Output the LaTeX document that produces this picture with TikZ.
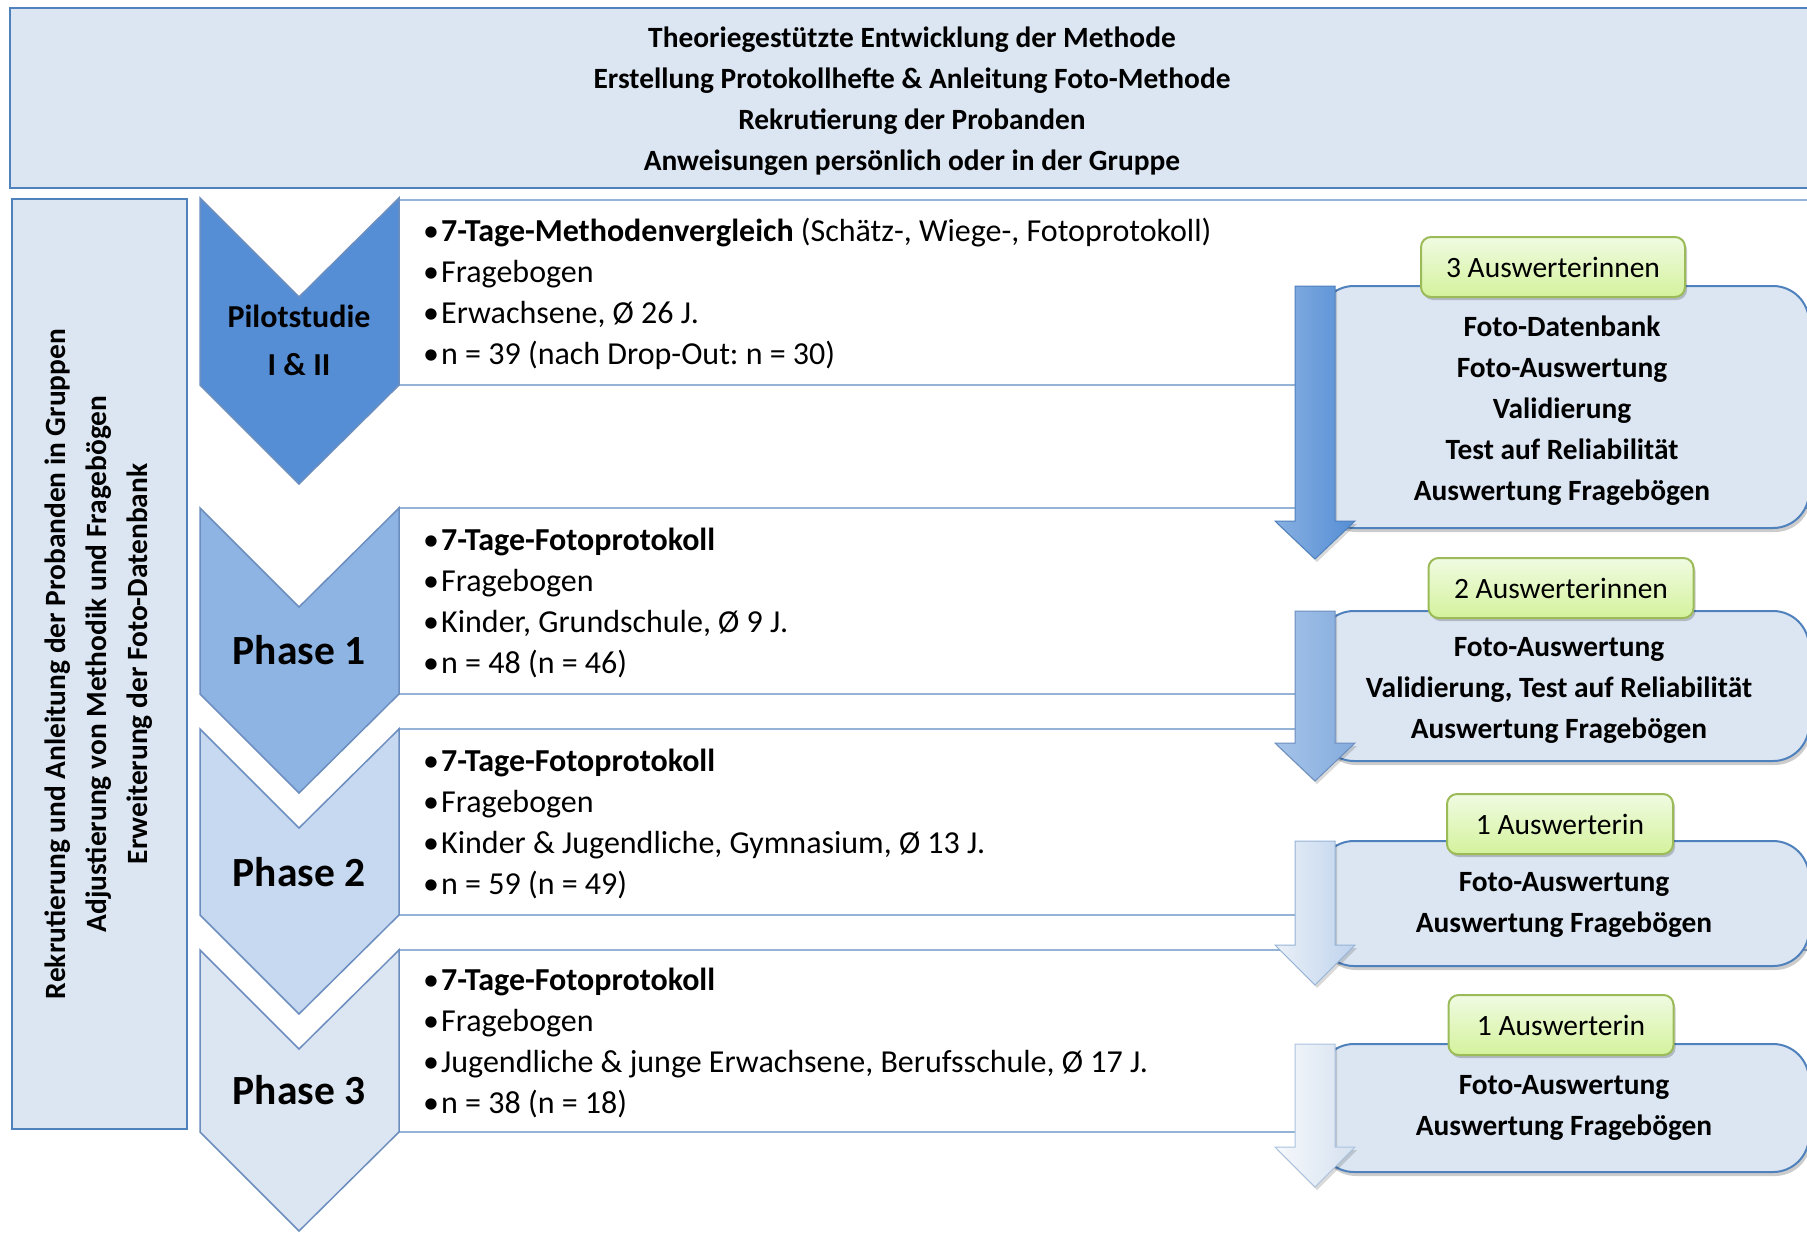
\documentclass[tikz,border=0pt]{standalone}
\usepackage{fontspec}
\setmainfont{Carlito}
\usepackage{tikz}
\usetikzlibrary{shadows}
\frenchspacing

\definecolor{hdrfill}{HTML}{DCE6F2}
\definecolor{hdrline}{HTML}{4F81BD}
\definecolor{rowline}{HTML}{95B3D7}
\definecolor{chevline}{HTML}{6C8EBF}
\definecolor{chevA}{HTML}{558ED5}
\definecolor{chevB}{HTML}{8EB4E3}
\definecolor{chevC}{HTML}{C6D9F1}
\definecolor{chevD}{HTML}{DCE6F2}
\definecolor{tagtop}{HTML}{F0FBE2}
\definecolor{tagbot}{HTML}{D4F29C}
\definecolor{tagline}{HTML}{9BBB59}

\newcommand\itm{\makebox[18pt][l]{\textbullet}}

\begin{document}
\begin{tikzpicture}[x=1pt,y=-1pt,
  frame/.style={draw=hdrline,line width=2pt,fill=hdrfill},
  row/.style={draw=rowline,line width=2pt,fill=white},
  chev/.style={draw=chevline,line width=1.5pt},
  panel/.style={draw=hdrline,line width=2pt,fill=hdrfill,rounded corners=36pt,
    drop shadow={shadow xshift=2pt,shadow yshift=-4pt,fill=black,opacity=.2}},
  flow/.style={line width=1pt,
    drop shadow={shadow xshift=2pt,shadow yshift=-3pt,fill=black,opacity=.15}},
  tag/.style={draw=tagline,line width=2pt,rounded corners=10pt,top color=tagtop,
    bottom color=tagbot,minimum height=60pt,font=\fontsize{29.5}{35}\selectfont,
    drop shadow={shadow xshift=2pt,shadow yshift=-3pt,fill=black,opacity=.2}},
  bold/.style={font=\fontsize{29.4}{41}\selectfont\bfseries,align=center,inner sep=0pt},
  items/.style={font=\fontsize{32}{41}\selectfont,align=left,anchor=west,inner sep=0pt},
  pilot/.style={font=\fontsize{32}{48}\selectfont\bfseries,align=center},
  phase/.style={font=\fontsize{41.5}{48}\selectfont\bfseries}]
\useasboundingbox (0,0) rectangle (1807,1232);
\clip (0,0) rectangle (1807,1232);

% objects at depth 60:
\path[frame] (10,8) rectangle (1815,188);
\path[frame] (12,199) rectangle (187,1129);

% objects at depth 50:
\path[row] (399,200) rectangle (1815,385);
\path[row] (399,508) rectangle (1815,694);
\path[row] (399,729) rectangle (1815,915);
\path[row] (399,950) rectangle (1815,1132);

% objects at depth 40:
\path[chev,fill=chevA] (200,198) -- (299,297) -- (399,198) -- (399,385) -- (299,484) -- (200,385) -- cycle;
\path[chev,fill=chevB] (200,508) -- (299,607) -- (399,508) -- (399,694) -- (299,793) -- (200,694) -- cycle;
\path[chev,fill=chevC] (200,729) -- (299,828) -- (399,729) -- (399,915) -- (299,1014) -- (200,915) -- cycle;
\path[chev,fill=chevD] (200,950) -- (299,1049) -- (399,950) -- (399,1132) -- (299,1231) -- (200,1132) -- cycle;

% objects at depth 30:
\path[panel] (1318,286) rectangle (1809,528);
\path[panel] (1318,611) rectangle (1809,761);
\path[panel] (1318,841) rectangle (1809,966);
\path[panel] (1318,1044) rectangle (1809,1172);

% objects at depth 20:
\path[flow,draw=hdrline,left color=chevA!70!white,right color=chevA]
  (1295,286) -- (1335,286) -- (1335,521) -- (1355,521) -- (1315,559) -- (1275,521) -- (1295,521) -- cycle;
\path[flow,draw=chevline,left color=chevB!80!white,right color=chevB!85!hdrline]
  (1295,611) -- (1335,611) -- (1335,743) -- (1355,743) -- (1315,781) -- (1275,743) -- (1295,743) -- cycle;
\path[flow,draw=rowline,left color=chevD!60!white,right color=chevC!85!rowline]
  (1295,841) -- (1335,841) -- (1335,945) -- (1355,945) -- (1315,985) -- (1275,945) -- (1295,945) -- cycle;
\path[flow,draw=rowline!80!white,left color=chevD!25!white,right color=chevD!90!rowline]
  (1295,1044) -- (1335,1044) -- (1335,1147) -- (1355,1147) -- (1315,1187) -- (1275,1147) -- (1295,1147) -- cycle;

% objects at depth 10:
\node[tag,minimum width=264pt] (team1) at (1553,267) {3 Auswerterinnen};
\node[tag,minimum width=265pt] (team2) at (1561,588) {2 Auswerterinnen};
\node[tag,minimum width=226pt] (team3) at (1560,824) {1 Auswerterin};
\node[tag,minimum width=225pt] (team4) at (1561,1025) {1 Auswerterin};

% texts:
\node[bold] (prep) at (912,101) {Theoriegestützte Entwicklung der Methode\\
  Erstellung Protokollhefte \& Anleitung Foto-Methode\\
  Rekrutierung der Probanden\\
  Anweisungen persönlich oder in der Gruppe};
\node[bold,rotate=90] (loop) at (99,664) {Rekrutierung und Anleitung der Probanden in Gruppen\\
  Adjustierung von Methodik und Fragebögen\\
  Erweiterung der Foto-Datenbank};

\node[pilot] (stage0) at (299,340) {Pilotstudie\\I \& II};
\node[phase] (stage1) at (299,650) {Phase 1};
\node[phase] (stage2) at (299,872) {Phase 2};
\node[phase] (stage3) at (299,1090) {Phase 3};

\node[items] (info0) at (423,294) {\itm\textbf{7-Tage-Methodenvergleich} (Schätz-, Wiege-, Fotoprotokoll)\\
  \itm Fragebogen\\
  \itm Erwachsene, Ø 26 J.\\
  \itm n = 39 (nach Drop-Out: n = 30)};
\node[items] (info1) at (423,603) {\itm\textbf{7-Tage-Fotoprotokoll}\\
  \itm Fragebogen\\
  \itm Kinder, Grundschule, Ø 9 J.\\
  \itm n = 48 (n = 46)};
\node[items] (info2) at (423,824) {\itm\textbf{7-Tage-Fotoprotokoll}\\
  \itm Fragebogen\\
  \itm Kinder \& Jugendliche, Gymnasium, Ø 13 J.\\
  \itm n = 59 (n = 49)};
\node[items] (info3) at (423,1043) {\itm\textbf{7-Tage-Fotoprotokoll}\\
  \itm Fragebogen\\
  \itm Jugendliche \& junge Erwachsene, Berufsschule, Ø 17 J.\\
  \itm n = 38 (n = 18)};

\node[bold] (eval0) at (1562,411) {Foto-Datenbank\\Foto-Auswertung\\Validierung\\Test auf Reliabilität\\Auswertung Fragebögen};
\node[bold] (eval1) at (1559,690) {Foto-Auswertung\\Validierung, Test auf Reliabilität\\Auswertung Fragebögen};
\node[bold] (eval2) at (1564,905) {Foto-Auswertung\\Auswertung Fragebögen};
\node[bold] (eval3) at (1564,1108) {Foto-Auswertung\\Auswertung Fragebögen};
\end{tikzpicture}
\end{document}
